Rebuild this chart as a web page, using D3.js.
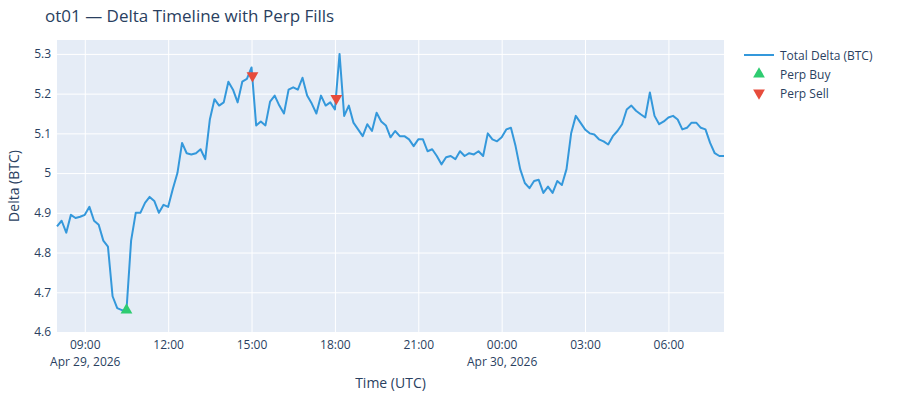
<!DOCTYPE html>
<html><head><meta charset="utf-8">
<script src="https://cdn.jsdelivr.net/npm/d3@7"></script>
<style>body{margin:0;background:#fff}text{font-family:"Open Sans",Arial,sans-serif;fill:#2a3f5f}</style>
</head><body><svg id="c" width="900" height="400"></svg>
<script>
// delta sampled every 10 min from 2026-04-29 08:00 UTC
const startTime = '2026-04-29T08:00:00Z';
const deltaValues = [
  4.866,4.88,4.85,4.895,4.887,4.89, 4.895,4.915,4.88,4.87,4.83,4.815,
  4.69,4.66,4.655,4.655,4.83,4.9, 4.9,4.925,4.94,4.93,4.9,4.92,
  4.915,4.96,5.0,5.076,5.05,5.047, 5.05,5.06,5.035,5.135,5.186,5.17,
  5.178,5.23,5.21,5.178,5.23,5.237, 5.266,5.12,5.13,5.12,5.18,5.195,
  5.17,5.15,5.21,5.216,5.21,5.24, 5.195,5.175,5.15,5.195,5.17,5.178,
  5.16,5.3,5.144,5.17,5.127,5.11, 5.093,5.123,5.106,5.152,5.13,5.12,
  5.09,5.106,5.093,5.093,5.085,5.068, 5.085,5.085,5.055,5.06,5.043,5.022,
  5.04,5.043,5.035,5.055,5.043,5.05, 5.047,5.055,5.043,5.1,5.085,5.08,
  5.09,5.11,5.114,5.068,5.01,4.975, 4.962,4.98,4.983,4.95,4.966,4.95,
  4.98,4.97,5.01,5.1,5.144,5.127, 5.11,5.1,5.097,5.085,5.08,5.072,
  5.093,5.106,5.123,5.16,5.17,5.157, 5.148,5.14,5.203,5.144,5.123,5.13,
  5.14,5.144,5.135,5.11,5.114,5.127, 5.127,5.114,5.11,5.076,5.05,5.043,5.043
];
const buyTimes = ['2026-04-29T10:30:00Z'];
const buyValues = [4.655];
const sellTimes = ['2026-04-29T15:02:00Z', '2026-04-29T18:03:00Z'];
const sellValues = [5.245, 5.188];
const yTicks = [4.6, 4.7, 4.8, 4.9, 5, 5.1, 5.2, 5.3];

const t0 = new Date(startTime);
const series = deltaValues.map((v, i) => ({ t: new Date(+t0 + i * 600000), v }));

const m = { l: 57, r: 176, t: 40, b: 68 };
const W = 900, H = 400;
const svg = d3.select('#c');
const x = d3.scaleUtc().domain(d3.extent(series, d => d.t)).range([m.l, W - m.r]);
const y = d3.scaleLinear().domain([4.6, 5.335]).range([H - m.b, m.t]);

svg.append('rect').attr('x', m.l).attr('y', m.t)
  .attr('width', W - m.l - m.r).attr('height', H - m.t - m.b).attr('fill', '#E5ECF6');

// grid + axes
const xTicks = x.ticks(d3.utcHour.every(3));
const xAxis = svg.append('g').attr('transform', `translate(0,${H - m.b})`)
  .call(d3.axisBottom(x).tickValues(xTicks).tickSize(-(H - m.t - m.b)).tickPadding(8)
    .tickFormat(d3.utcFormat('%H:%M')));
xAxis.select('.domain').remove();
xAxis.selectAll('line').attr('stroke', '#fff').attr('stroke-width', 1);
xAxis.selectAll('text').attr('font-size', 12).attr('fill', '#2a3f5f');
xAxis.selectAll('.tick').filter(d => d.getUTCHours() === 0 || +d === +xTicks[0])
  .append('text').attr('y', 25).attr('dy', '0.71em').attr('text-anchor', 'middle')
  .attr('font-size', 12).attr('fill', '#2a3f5f').text(d3.utcFormat('%b %-d, %Y'));

const yAxis = svg.append('g').attr('transform', `translate(${m.l},0)`)
  .call(d3.axisLeft(y).tickValues(yTicks).tickSize(-(W - m.l - m.r)).tickPadding(6)
    .tickFormat(d3.format('~g')));
yAxis.select('.domain').remove();
yAxis.selectAll('line').attr('stroke', '#fff').attr('stroke-width', 1);
yAxis.selectAll('text').attr('font-size', 12).attr('fill', '#2a3f5f');

// line
const line = d3.line().x(d => x(d.t)).y(d => y(d.v));
svg.append('path').attr('d', line(series)).attr('fill', 'none')
  .attr('stroke', '#3498db').attr('stroke-width', 2).attr('stroke-linejoin', 'round');

const tri = d3.symbol().type(d3.symbolTriangle).size(60);
buyTimes.forEach((t, i) => svg.append('path').attr('d', tri())
  .attr('transform', `translate(${x(new Date(t))},${y(buyValues[i])})`).attr('fill', '#2ecc71'));
sellTimes.forEach((t, i) => svg.append('path').attr('d', tri())
  .attr('transform', `translate(${x(new Date(t))},${y(sellValues[i])}) rotate(180)`).attr('fill', '#e74c3c'));

// titles
svg.append('text').attr('x', 45).attr('y', 22).attr('font-size', 17).text('ot01 — Delta Timeline with Perp Fills');
svg.append('text').attr('x', (m.l + W - m.r) / 2).attr('y', 388).attr('text-anchor', 'middle')
  .attr('font-size', 14).text('Time (UTC)');
svg.append('text').attr('transform', `translate(19,${(m.t + H - m.b) / 2}) rotate(-90)`)
  .attr('text-anchor', 'middle').attr('font-size', 14).text('Delta (BTC)');

// legend
const lg = svg.append('g').attr('transform', 'translate(744,55)');
lg.append('line').attr('x1', 0).attr('x2', 30).attr('stroke', '#3498db').attr('stroke-width', 2);
lg.append('path').attr('d', tri()).attr('transform', 'translate(15,19)').attr('fill', '#2ecc71');
lg.append('path').attr('d', tri()).attr('transform', 'translate(15,38) rotate(180)').attr('fill', '#e74c3c');
['Total Delta (BTC)', 'Perp Buy', 'Perp Sell'].forEach((s, i) =>
  lg.append('text').attr('x', 36).attr('y', i * 19 + 4.5).attr('font-size', 12).text(s));
</script></body></html>
